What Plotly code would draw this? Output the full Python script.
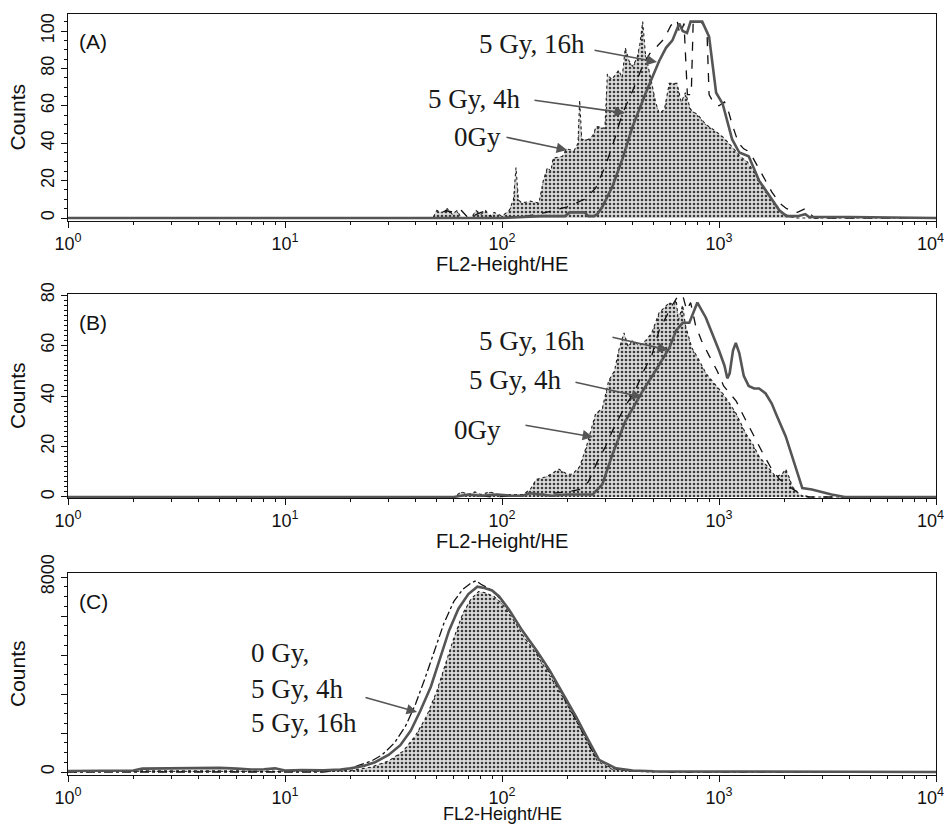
import plotly.graph_objects as go

# ---------------- data (FL2-Height/HE value, counts) ----------------
# Panel A
a_0gy_x = [1, 48, 50, 53, 56, 59, 62, 65, 72, 76, 80, 84, 88, 92, 100, 108, 113, 116, 119, 123,
           135, 148, 155, 162, 168, 172, 190, 198, 215, 224, 228, 233, 250, 262, 272, 298, 306, 320, 345, 358,
           370, 385, 400, 420, 432, 445, 458, 475, 490, 510, 530, 560, 590, 640, 670, 700, 740, 800, 870, 950,
           1050, 1150, 1250, 1350, 1500, 1650, 1800, 1950, 2100, 2250, 10000]
a_0gy_y = [0, 0, 4, 3, 5, 2, 4, 0, 0, 4, 2, 4, 1, 3, 1, 4, 10, 27, 10, 8,
           9, 8, 20, 27, 25, 32, 33, 37, 36, 40, 63, 42, 42, 44, 49, 48, 77, 74, 79, 75,
           91, 84, 81, 86, 93, 105, 88, 80, 72, 62, 56, 58, 72, 72, 62, 67, 58, 55, 50, 47,
           43, 38, 33, 30, 22, 14, 8, 3, 1, 0, 0]
a_4h_x = [1, 50, 55, 60, 65, 70, 80, 85, 90, 130, 160, 200, 240, 270, 300, 330, 359, 400, 440, 480,
          520, 560, 600, 640, 660, 690, 715, 745, 760, 800, 840, 880, 900, 940, 1000, 1060, 1100, 1150,
          1230, 1300, 1350, 1420, 1500, 1600, 1750, 1900, 2050, 2300, 2500, 2650, 2750, 10000]
a_4h_y = [0, 0, 4, 3, 4, 0, 3, 4, 0, 1, 3, 6, 10, 16, 28, 42, 56, 68, 80, 88,
          92, 96, 103, 106, 98, 104, 66, 66, 104, 106, 104, 100, 66, 62, 60, 62, 58, 50,
          40, 37, 36, 33, 28, 22, 14, 8, 5, 3, 5, 2, 0, 0]
a_16h_x = [1, 100, 150, 195, 205, 240, 250, 265, 275, 290, 323, 360, 400, 460, 530, 570, 610, 656, 680, 712,
           740, 765, 837, 900, 940, 970, 1040, 1100, 1150, 1240, 1370, 1530, 1700, 1900, 2050, 2300, 2500,
           2600, 4000, 10000]
a_16h_y = [0, 0, 1, 1, 3, 3, 1, 1, 2, 6, 17, 32, 49, 67, 84, 91, 95, 104, 100, 99,
           105, 105, 105, 97, 80, 67, 61, 50, 42, 35, 33, 20, 12, 4, 1, 1, 2,
           0.5, 0.5, 0]

# Panel B
b_0gy_x = [1, 60, 65, 70, 75, 80, 88, 95, 100, 110, 125, 135, 144, 160, 183, 200, 211, 228, 245, 270,
           290, 310, 330, 345, 365, 380, 400, 430, 460, 490, 530, 560, 590, 620, 635, 650, 680, 700, 750, 800,
           870, 950, 1040, 1120, 1200, 1330, 1430, 1530, 1680, 1830, 1950, 2030, 2100, 2180, 2350, 2500, 10000]
b_0gy_y = [0, 0, 2, 1, 2, 1, 2, 1, 0.5, 1, 1, 3, 7, 8, 11, 9, 9, 12, 20, 33,
           35, 46, 50, 58, 65, 60, 62, 60, 62, 65, 73, 75, 77, 76, 78, 70, 76, 68, 59, 55,
           49, 45, 41, 37, 33, 25, 21, 16, 12, 8, 9, 11, 8, 4, 1, 0, 0]
b_4h_x = [1, 60, 70, 90, 150, 200, 230, 250, 275, 300, 330, 370, 410, 450, 490, 530, 560, 600, 640, 680,
          710, 740, 780, 830, 900, 980, 1050, 1200, 1300, 1450, 1600, 1750, 1900, 2050, 2200, 2400, 2600, 10000]
b_4h_y = [0, 0, 1, 0, 1, 2, 3, 6, 14, 20, 28, 36, 42, 50, 56, 66, 70, 75, 79, 80,
          74, 77, 68, 62, 56, 50, 44, 38, 32, 24, 17, 11, 7, 5, 3, 1, 0, 0]
b_16h_x = [1, 60, 70, 80, 95, 110, 125, 134, 150, 170, 198, 220, 250, 262, 290, 323, 370, 445, 510, 590,
           635, 680, 730, 760, 795, 870, 930, 1000, 1060, 1092, 1120, 1160, 1195, 1240, 1300, 1370, 1450, 1530,
           1640, 1750, 1830, 2030, 2250, 2420, 2680, 2960, 3300, 3800, 10000]
b_16h_y = [0, 0, 1, 0.5, 1, 0.5, 0.5, 1.5, 1, 0.5, 1, 1, 1, 1, 5, 17, 30, 42, 50, 59,
           66, 69, 69, 73, 77, 71, 65, 58, 52, 47, 49, 58, 61, 57, 48, 44, 43, 43,
           41, 37, 33, 24, 12, 3.5, 3, 2, 1, 0, 0]

# Panel C
c_0gy_x = [1, 2, 5, 10, 20, 25, 30, 35, 40, 45, 50, 55, 60, 66, 72, 78, 84, 92, 100, 110,
           125, 145, 165, 190, 220, 245, 275, 320, 400, 500, 10000]
c_0gy_y = [0, 50, 50, 30, 60, 200, 450, 850, 1500, 2300, 3300, 4400, 5500, 6500, 7100, 7400, 7350, 7200, 6900, 6400,
           5600, 4800, 4000, 3100, 2100, 1300, 450, 120, 30, 0, 0]
c_4h_x = [1, 15, 18, 20, 22, 25, 28, 32, 36, 40, 44, 49, 54, 60, 66, 72, 76, 80, 88, 95,
          105, 120, 140, 160, 185, 215, 240, 270, 320, 400, 600, 10000]
c_4h_y = [0, 0, 80, 150, 280, 450, 700, 1200, 1900, 2800, 3800, 5000, 6100, 7000, 7500, 7750, 7850, 7700, 7500, 7250,
          6750, 6000, 5100, 4300, 3350, 2300, 1500, 600, 150, 40, 0, 0]
c_16h_x = [1, 1.5, 2, 2.2, 3, 4, 5, 6, 7, 8, 9, 10, 12, 15, 18, 20, 23, 26, 30, 34,
           38, 42, 47, 52, 57, 63, 70, 77, 83, 90, 97, 108, 124, 144, 165, 190, 220, 245, 280, 335,
           400, 500, 800, 1500, 3000, 5000, 10000]
c_16h_y = [40, 40, 60, 140, 160, 180, 170, 140, 100, 110, 150, 60, 80, 70, 100, 150, 250, 400, 700, 1100,
           1700, 2500, 3500, 4700, 5800, 6700, 7300, 7600, 7550, 7450, 7200, 6650, 5800, 5000, 4200, 3250, 2250, 1450, 500, 150,
           60, 30, 30, 20, 20, 10, 0]

x_tick_vals = [1, 10, 100, 1000, 10000]
x_tick_text = ["10<sup>0</sup>", "10<sup>1</sup>", "10<sup>2</sup>", "10<sup>3</sup>", "10<sup>4</sup>"]
panel_labels = ["(A)", "(B)", "(C)"]
x_title = "FL2-Height/HE"
y_title = "Counts"

# ---------------- layout helpers ----------------
W, H = 946, 825
def px(x):
    return x / W
def py(y):
    return 1 - y / H

X_DOM = [px(68), px(936)]
panels = [
    dict(top=14, bottom=221, yrange=[-1.6, 109.1], yticks=[0, 20, 40, 60, 80, 100],
         yticktext=["0", "20", "40", "60", "80", "100"], minor=5, xtitle_y=264, tsize=20,
         series=(a_0gy_x, a_0gy_y, a_4h_x, a_4h_y, a_16h_x, a_16h_y), dash="dash"),
    dict(top=294, bottom=498, yrange=[-0.4, 80.4], yticks=[0, 20, 40, 60, 80],
         yticktext=["0", "20", "40", "60", "80"], minor=2, xtitle_y=541, tsize=20,
         series=(b_0gy_x, b_0gy_y, b_4h_x, b_4h_y, b_16h_x, b_16h_y), dash="dash"),
    dict(top=573, bottom=775, yrange=[-123, 8164], yticks=[0, 1600, 3200, 4800, 6400, 8000],
         yticktext=["0", "", "", "", "", "8000"], minor=400, xtitle_y=814, tsize=18,
         series=(c_0gy_x, c_0gy_y, c_4h_x, c_4h_y, c_16h_x, c_16h_y), dash="dashdot"),
]

fig = go.Figure()
SANS = "Liberation Sans, Arial, sans-serif"
SERIF = "Liberation Serif, Times New Roman, serif"
minor_x = [k * 10 ** d for d in range(4) for k in range(2, 10)]
# the right-most decade label would overflow the page, so it is drawn as an annotation
axis_ticktext = x_tick_text[:-1] + [""]

annotations = []
for i, p in enumerate(panels):
    n = "" if i == 0 else str(i + 1)
    xa, ya = "x" + n, "y" + n
    x0, y0, x1, y1, x2, y2 = p["series"]
    # 0 Gy: filled stippled histogram with dotted outline
    fig.add_trace(go.Scatter(
        x=x0, y=y0, xaxis=xa, yaxis=ya, mode="lines", fill="tozeroy",
        line=dict(color="#222", width=1.1, dash="dot"),
        fillcolor="#d4d4d4",
        fillpattern=dict(shape=".", fgcolor="#3a3a3a", bgcolor="#dadada", size=4, solidity=0.33),
        showlegend=False, hoverinfo="skip"))
    # 5 Gy, 4h: dashed
    fig.add_trace(go.Scatter(
        x=x1, y=y1, xaxis=xa, yaxis=ya, mode="lines",
        line=dict(color="#111", width=1.3, dash=p["dash"]),
        showlegend=False, hoverinfo="skip"))
    # 5 Gy, 16h: solid grey
    fig.add_trace(go.Scatter(
        x=x2, y=y2, xaxis=xa, yaxis=ya, mode="lines",
        line=dict(color="#555", width=2.6),
        showlegend=False, hoverinfo="skip"))

    fig.update_layout({
        ("xaxis" + n): dict(
            type="log", range=[0, 4], domain=X_DOM, anchor=ya,
            tickvals=x_tick_vals, ticktext=axis_ticktext, ticks="outside", ticklen=6,
            tickwidth=1.2, tickcolor="#111",
            minor=dict(tickvals=minor_x, ticks="outside", ticklen=3, tickcolor="#111"),
            showline=True, linecolor="#111", linewidth=1.3, mirror=True,
            showgrid=False, zeroline=False, automargin=False,
            tickfont=dict(family=SANS, size=18, color="#111")),
        ("yaxis" + n): dict(
            range=p["yrange"], domain=[py(p["bottom"]), py(p["top"])], anchor=xa,
            tickvals=p["yticks"], ticktext=p["yticktext"], ticks="outside", ticklen=6,
            tickwidth=1.2, tickcolor="#111", tickangle=-90, ticklabeloverflow="allow",
            minor=dict(dtick=p["minor"], ticks="outside", ticklen=3, tickcolor="#111"),
            showline=True, linecolor="#111", linewidth=1.3, mirror=True,
            showgrid=False, zeroline=False, automargin=False,
            tickfont=dict(family=SANS, size=18, color="#111")),
    })
    annotations.append(dict(text=x_tick_text[-1], xref="paper", yref="paper", x=px(930),
                            y=py(p["bottom"] + 8), showarrow=False, xanchor="center", yanchor="top",
                            font=dict(family=SANS, size=18, color="#111")))
    mid = (p["top"] + p["bottom"]) / 2
    annotations.append(dict(text=y_title, xref="paper", yref="paper", x=px(17), y=py(mid),
                            textangle=-90, showarrow=False, xanchor="center", yanchor="middle",
                            font=dict(family=SANS, size=21, color="#111")))
    annotations.append(dict(text=x_title, xref="paper", yref="paper", x=px(502), y=py(p["xtitle_y"]),
                            showarrow=False, xanchor="center", yanchor="middle",
                            font=dict(family=SANS, size=p["tsize"], color="#111")))
    annotations.append(dict(text=panel_labels[i], xref="paper", yref="paper", x=px(77),
                            y=py(p["top"] + 28), showarrow=False, xanchor="left", yanchor="middle",
                            font=dict(family=SANS, size=21, color="#111")))

# text labels (serif) and arrows
def label(text, cx, cy, anchor="center"):
    annotations.append(dict(text=text, xref="paper", yref="paper", x=px(cx), y=py(cy),
                            showarrow=False, xanchor=anchor, yanchor="middle",
                            font=dict(family=SERIF, size=27, color="#1a1a1a")))

def arrow(tail, tip):
    annotations.append(dict(text="", xref="paper", yref="paper", x=px(tip[0]), y=py(tip[1]),
                            ax=tail[0] - tip[0], ay=tail[1] - tip[1], axref="pixel", ayref="pixel",
                            showarrow=True, arrowhead=2, arrowsize=1.3, arrowwidth=1.6,
                            arrowcolor="#555", standoff=0))

label("5 Gy, 16h", 532, 44); arrow((593, 50), (657, 62))
label("5 Gy, 4h", 474, 99); arrow((533, 100), (625, 113))
label("0Gy", 478, 137); arrow((505, 137), (567, 150))

label("5 Gy, 16h", 532, 341); arrow((611, 337), (668, 350))
label("5 Gy, 4h", 515, 380); arrow((574, 382), (642, 397))
label("0Gy", 478, 430); arrow((524, 425), (593, 437))

label("0 Gy,", 249, 653, "left")
label("5 Gy, 4h", 249, 689, "left")
label("5 Gy, 16h", 249, 723, "left")
arrow((364, 697), (417, 712))

fig.update_layout(
    width=W, height=H, template="none",
    margin=dict(l=0, r=0, t=0, b=0),
    paper_bgcolor="white", plot_bgcolor="white",
    showlegend=False, annotations=annotations,
)

# remove the browser's default 8px body margin so the 946x825 figure fills the window exactly
fig.write_html("out.html", config={"displayModeBar": False},
               post_script="document.body.style.margin='0px';")
